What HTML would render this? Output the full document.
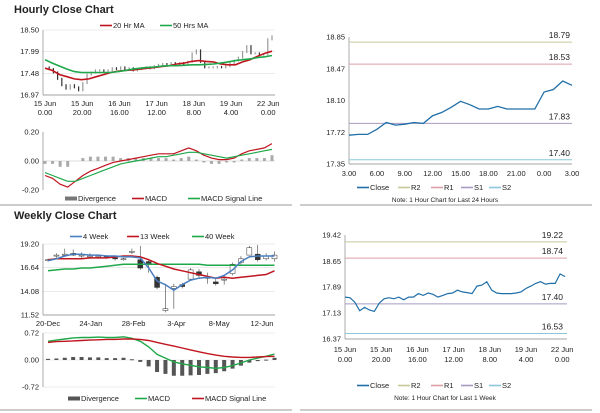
<!DOCTYPE html>
<html><head><meta charset="utf-8"><style>
body{margin:0;background:#fff}
svg{display:block;font-family:"Liberation Sans",Arial,sans-serif}
text{fill:#222;font-size:7.5px}
.t{font-size:11px;font-weight:bold}
</style></head><body>
<svg id="c" width="600" height="413" viewBox="0 0 600 413">
<text class="t" x="14" y="13">Hourly Close Chart</text>
<text class="t" x="14" y="219">Weekly Close Chart</text>
<line x1="0" y1="205" x2="292" y2="205" stroke="#999"/>
<line x1="300" y1="205" x2="592" y2="205" stroke="#999"/>
<line x1="0" y1="410" x2="292" y2="410" stroke="#999"/>
<line x1="300" y1="410" x2="592" y2="410" stroke="#999"/>
</svg>
<script>
// ---- hourly close (top-left) ----
const hClose=[17.62,17.58,17.5,17.35,17.2,17.12,17.2,17.15,17.08,17.25,17.45,17.5,17.55,17.55,17.52,17.55,17.6,17.58,17.62,17.58,17.6,17.55,17.58,17.6,17.62,17.6,17.65,17.68,17.7,17.68,17.72,17.7,17.72,17.7,17.75,17.95,18.02,17.75,17.62,17.62,17.62,17.63,17.62,17.65,17.72,17.78,17.85,17.98,18.12,17.95,17.95,17.92,17.93,18.28,18.35];
const hMA20=[17.6,17.55,17.45,17.4,17.35,17.33,17.35,17.4,17.45,17.5,17.53,17.55,17.56,17.58,17.6,17.62,17.64,17.66,17.7,17.72,17.76,17.78,17.76,17.75,17.7,17.68,17.68,17.75,17.8,17.88,17.95,18.0];
const hMA50=[17.8,17.72,17.65,17.58,17.52,17.5,17.5,17.5,17.5,17.5,17.52,17.55,17.58,17.6,17.62,17.63,17.65,17.66,17.66,17.67,17.68,17.68,17.69,17.7,17.72,17.75,17.78,17.8,17.82,17.85,17.87,17.9];
const hMacd=[-0.1,-0.12,-0.16,-0.18,-0.14,-0.1,-0.07,-0.05,-0.03,-0.01,0,0.01,0.02,0.03,0.04,0.05,0.05,0.05,0.07,0.09,0.07,0.04,0.02,0.01,0.01,0.02,0.05,0.07,0.08,0.09,0.12];
const hSig=[-0.08,-0.1,-0.12,-0.14,-0.14,-0.12,-0.1,-0.08,-0.06,-0.04,-0.02,-0.01,0,0.01,0.02,0.03,0.03,0.04,0.05,0.06,0.06,0.05,0.04,0.03,0.02,0.03,0.04,0.05,0.06,0.07,0.08];
const hTicksY=[18.50,17.99,17.48,16.97];
const hTicksX=[["15 Jun","0.00"],["15 Jun","20.00"],["16 Jun","16.00"],["17 Jun","12.00"],["18 Jun","8.00"],["19 Jun","4.00"],["22 Jun","0.00"]];
// ---- 24h close (top-right) ----
const dClose=[17.69,17.7,17.7,17.76,17.84,17.81,17.82,17.84,17.83,17.92,17.96,18.02,18.09,18.05,18.0,18.0,18.03,18.0,18.0,18.0,18.0,18.2,18.23,18.33,18.28];
const dTicksY=[18.85,18.47,18.10,17.72,17.35];
const dTicksX=["3.00","6.00","9.00","12.00","15.00","18.00","21.00","0.00","3.00"];
const dLevels=[["R2",18.79,"#c8c89a"],["R1",18.53,"#d9a0a8"],["S1",17.83,"#a89ac0"],["S2",17.40,"#8cc8dc"]];
// ---- weekly candles ----
const wOpen=[17.4,17.9,18.0,18.0,17.9,17.8,17.8,17.9,17.7,17.6,18.3,17.5,17.3,15.6,12.0,14.4,14.8,15.4,16.2,15.6,15.1,15.3,16.0,17.2,18.0,18.1,17.6,17.6];
const wClose=[17.5,18.0,18.1,18.2,18.0,17.9,17.9,17.8,17.6,17.6,18.4,16.6,17.1,14.5,12.2,14.6,14.6,16.4,15.8,15.6,14.9,15.4,17.0,17.6,18.8,17.5,17.9,18.0];
const wHigh=[17.6,18.2,18.7,18.6,18.3,18.2,18.0,18.0,17.9,17.7,18.7,19.0,17.5,15.8,14.8,14.9,15.0,16.6,16.5,16.1,15.6,15.9,17.2,17.9,19.0,19.1,18.2,18.4];
const wLow=[17.3,17.7,17.9,17.9,17.7,17.6,17.6,17.6,17.4,17.4,18.1,16.4,16.1,14.3,11.8,12.2,14.4,15.2,15.5,14.9,14.7,14.8,15.8,17.0,18.0,17.3,17.4,17.3];
const w4=[17.4,17.6,17.9,18.1,18.1,18.0,18.0,17.9,17.9,17.8,17.8,17.7,16.6,15.2,14.8,14.2,14.8,15.3,15.5,15.6,15.5,15.8,16.4,17.3,17.8,17.9,17.9,17.9];
const w13=[17.5,17.6,17.6,17.6,17.6,17.7,17.7,17.7,17.8,17.9,17.9,17.8,17.5,17.1,16.8,16.5,16.3,16.1,15.9,15.7,15.5,15.6,15.5,15.6,15.7,15.8,15.9,16.3];
const w40=[16.3,16.4,16.5,16.5,16.6,16.6,16.7,16.8,16.9,17.0,17.0,17.0,17.0,17.0,17.0,17.0,17.0,17.0,17.0,16.9,16.9,16.9,16.9,16.9,16.9,16.9,16.9,16.9];
const wTicksY=[19.20,16.64,14.08,11.52];
const wTicksX=["20-Dec","24-Jan","28-Feb","3-Apr","8-May","12-Jun"];
const wMacd=[0.5,0.53,0.56,0.59,0.6,0.6,0.61,0.6,0.6,0.62,0.58,0.5,0.35,0.15,0.05,-0.05,-0.1,-0.14,-0.18,-0.2,-0.22,-0.2,-0.15,-0.08,0,0.05,0.1,0.16];
const wSig=[0.47,0.49,0.5,0.51,0.52,0.53,0.54,0.55,0.55,0.56,0.56,0.55,0.52,0.47,0.42,0.37,0.32,0.27,0.22,0.17,0.13,0.1,0.08,0.07,0.07,0.08,0.09,0.1];
const wDiv=[0.03,0.04,0.06,0.08,0.08,0.07,0.07,0.05,0.05,0.06,0.02,-0.05,-0.17,-0.32,-0.37,-0.42,-0.42,-0.41,-0.4,-0.37,-0.35,-0.3,-0.23,-0.15,-0.07,-0.03,0.01,0.06];
// ---- weekly hourly close (bottom-right) ----
const kClose=[17.6,17.58,17.45,17.2,17.3,17.22,17.18,17.42,17.55,17.58,17.55,17.6,17.52,17.6,17.6,17.7,17.65,17.72,17.68,17.6,17.65,17.7,17.72,17.8,17.75,17.73,17.7,17.92,17.95,18.05,17.8,17.72,17.7,17.7,17.7,17.72,17.75,17.85,17.92,18.0,18.05,17.98,18.0,18.0,18.28,18.2];
const kTicksY=[19.42,18.65,17.89,17.13,16.37];
const kLevels=[["R2",19.22,"#c8c89a"],["R1",18.74,"#d9a0a8"],["S1",17.40,"#a89ac0"],["S2",16.53,"#8cc8dc"]];

const svg=document.getElementById('c'),NS="http://www.w3.org/2000/svg";
function mk(tag,at){const e=document.createElementNS(NS,tag);for(const k in at)e.setAttribute(k,at[k]);svg.appendChild(e);return e;}
function txt(x,y,s,anchor){const e=mk('text',{x:x,y:y,'text-anchor':anchor||'start'});e.textContent=s;return e;}
function lin(a,b,y0,y1){return v=>y0+(v-a)/(b-a)*(y1-y0);}
function pathOf(arr,fx,fy){return arr.map((v,i)=>(i?'L':'M')+fx(i).toFixed(1)+','+fy(v).toFixed(1)).join('');}
function axisY(ticks,fy,x0,x1,grid,dec){ticks.forEach(t=>{const l=txt(x0-4,fy(t)+2.5,t.toFixed(dec),'end');


if(grid){const g=mk('line',{x1:x0,x2:x1,y1:fy(t),y2:fy(t),stroke:'#ddd','stroke-width':0.6});

}});
const a=mk('line',{x1:x0,x2:x0,y1:fy(ticks[0]),y2:fy(ticks[ticks.length-1]),stroke:'#888','stroke-width':0.7});

}
function line(arr,fx,fy,col,w,name){const p=mk('path',{d:pathOf(arr,fx,fy),fill:'none',stroke:col,'stroke-width':w});

}
function legend(items,y){items.forEach(([x,lab,col,w])=>{const l=mk('line',{x1:x,x2:x+12,y1:y-2.5,y2:y-2.5,stroke:col,'stroke-width':w||1.6});


const t=txt(x+13,y,lab);

});}

// hourly top-left
(function(){const X0=45,X1=272,fy=lin(18.5,16.97,30,95);
axisY(hTicksY,fy,X0-2,275,true,2);
const ax=mk('line',{x1:X0-2,x2:275,y1:95,y2:95,stroke:'#888','stroke-width':0.7});


const fc=i=>X0+i*(X1-X0)/(hClose.length-1);
hClose.forEach((v,i)=>{if(!i)return;const p=hClose[i-1];const r=mk('rect',{x:fc(i)-0.6,y:fy(Math.max(v,p))-1,width:1.2,height:Math.abs(fy(v)-fy(p))+2,fill:v>=p?'#999':'#333'});

});
line(hMA20,i=>X0+i*(X1-X0)/(hMA20.length-1),fy,'#c0151f',1.6,'ma20-line');
line(hMA50,i=>X0+i*(X1-X0)/(hMA50.length-1),fy,'#1fa84a',1.6,'ma50-line');
hTicksX.forEach((t,i)=>{const x=45+i*37.2;const a=txt(x,106,t[0],'middle');const b=txt(x,115,t[1],'middle');});
legend([[100,'20 Hr MA','#c0151f'],[160,'50 Hrs MA','#1fa84a']],28);
// macd
const fm=lin(0.2,-0.2,132,190);
axisY([0.2,0,-0.2],fm,X0-2,275,false,2);
const z=mk('line',{x1:X0-2,x2:275,y1:fm(0),y2:fm(0),stroke:'#bbb','stroke-width':0.6});


const fx=i=>X0+i*(X1-X0)/(hMacd.length-1);
for(let i=0;i<hMacd.length;i++){const d=hMacd[i]-hSig[i];const r=mk('rect',{x:fx(i)-1.5,y:Math.min(fm(0),fm(d)),width:3,height:Math.abs(fm(d)-fm(0)),fill:'#aaa'});

}
line(hMacd,fx,fm,'#c0151f',1.2,'macd-line');
line(hSig,fx,fm,'#1fa84a',1.2,'macd-signal-line');
legend([[65,'Divergence','#777',4],[132,'MACD','#c0151f'],[188,'MACD Signal Line','#1fa84a']],201);})();

// 24h top-right
(function(){const X0=349,X1=572,fy=lin(18.85,17.35,37,164);
axisY(dTicksY,fy,X0,X1,false,2);
const ax=mk('line',{x1:X0,x2:X1,y1:164,y2:164,stroke:'#888','stroke-width':0.7});


dTicksX.forEach((t,i)=>{const l=txt(X0+i*(X1-X0)/8,176,t,'middle');});
dLevels.forEach(([n,v,c])=>{const l=mk('line',{x1:X0,x2:X1,y1:fy(v),y2:fy(v),stroke:c,'stroke-width':1});


const t=txt(570,fy(v)-4,v.toFixed(2),'end');t.style.fontSize='8.5px';

});
line(dClose,i=>X0+i*(X1-X0)/(dClose.length-1),fy,'#1f6fa8',1.3,'close-line');
legend([[357,'Close','#1f6fa8'],[398,'R2','#c8c89a'],[431,'R1','#d9a0a8'],[461,'S1','#a89ac0'],[489,'S2','#8cc8dc']],190);
const n=txt(445,202,'Note: 1 Hour Chart for Last 24 Hours','middle');n.style.fontSize='6.5px';

})();

// weekly bottom-left
(function(){const X0=48,step=8.56,fy=lin(19.2,11.52,244,315);
axisY(wTicksY,fy,43,275,true,2);
const ax=mk('line',{x1:43,x2:275,y1:315,y2:315,stroke:'#888','stroke-width':0.7});


const fx=i=>X0+i*step*0.98;
wOpen.forEach((o,i)=>{const c=wClose[i];const w=mk('line',{x1:fx(i),x2:fx(i),y1:fy(wHigh[i]),y2:fy(wLow[i]),stroke:'#444','stroke-width':0.6});


const r=mk('rect',{x:fx(i)-2.5,y:fy(Math.max(o,c)),width:5,height:Math.max(1,Math.abs(fy(o)-fy(c))),fill:c>=o?'#fff':'#333',stroke:'#333','stroke-width':0.5});

});
line(w40,fx,fy,'#1fa84a',1.5,'40-week-line');
line(w13,fx,fy,'#c0151f',1.5,'13-week-line');
line(w4,fx,fy,'#4a7fc0',1.5,'4-week-line');
wTicksX.forEach((t,i)=>{const l=txt(48+i*42.8,326,t,'middle');});
legend([[70,'4 Week','#4a7fc0'],[127,'13 Week','#c0151f'],[192,'40 Week','#1fa84a']],239);
const fm=lin(0.72,-0.72,333,387);
axisY([0.72,0,-0.72],fm,43,275,true,2);
wDiv.forEach((d,i)=>{const r=mk('rect',{x:fx(i)-2,y:Math.min(fm(0),fm(d)),width:4,height:Math.max(1,Math.abs(fm(d)-fm(0))),fill:'#555'});

});
line(wMacd,fx,fm,'#1fa84a',1.4,'macd-line');
line(wSig,fx,fm,'#c0151f',1.4,'macd-signal-line');
legend([[68,'Divergence','#555',4],[135,'MACD','#1fa84a'],[192,'MACD Signal Line','#c0151f']],401);})();

// weekly hourly bottom-right
(function(){const X0=345,X1=567,fy=lin(19.42,16.37,235,339);
axisY(kTicksY,fy,X0,X1,false,2);
const ax=mk('line',{x1:X0,x2:X1,y1:339,y2:339,stroke:'#888','stroke-width':0.7});


hTicksX.forEach((t,i)=>{const x=X0+i*36.2;const a=txt(x,352,t[0],'middle');const b=txt(x,362,t[1],'middle');});
kLevels.forEach(([n,v,c])=>{const l=mk('line',{x1:X0,x2:X1,y1:fy(v),y2:fy(v),stroke:c,'stroke-width':1});


const t=txt(563,fy(v)-4,v.toFixed(2),'end');t.style.fontSize='8.5px';

});
line(kClose,i=>X0+i*(X1-X0-2)/(kClose.length-1),fy,'#1f6fa8',1.2,'close-line');
legend([[357,'Close','#1f6fa8'],[398,'R2','#c8c89a'],[431,'R1','#d9a0a8'],[461,'S1','#a89ac0'],[489,'S2','#8cc8dc']],388);
const n=txt(445,400,'Note: 1 Hour Chart for Last 1 Week','middle');n.style.fontSize='6.5px';

})();
</script>
</body></html>
